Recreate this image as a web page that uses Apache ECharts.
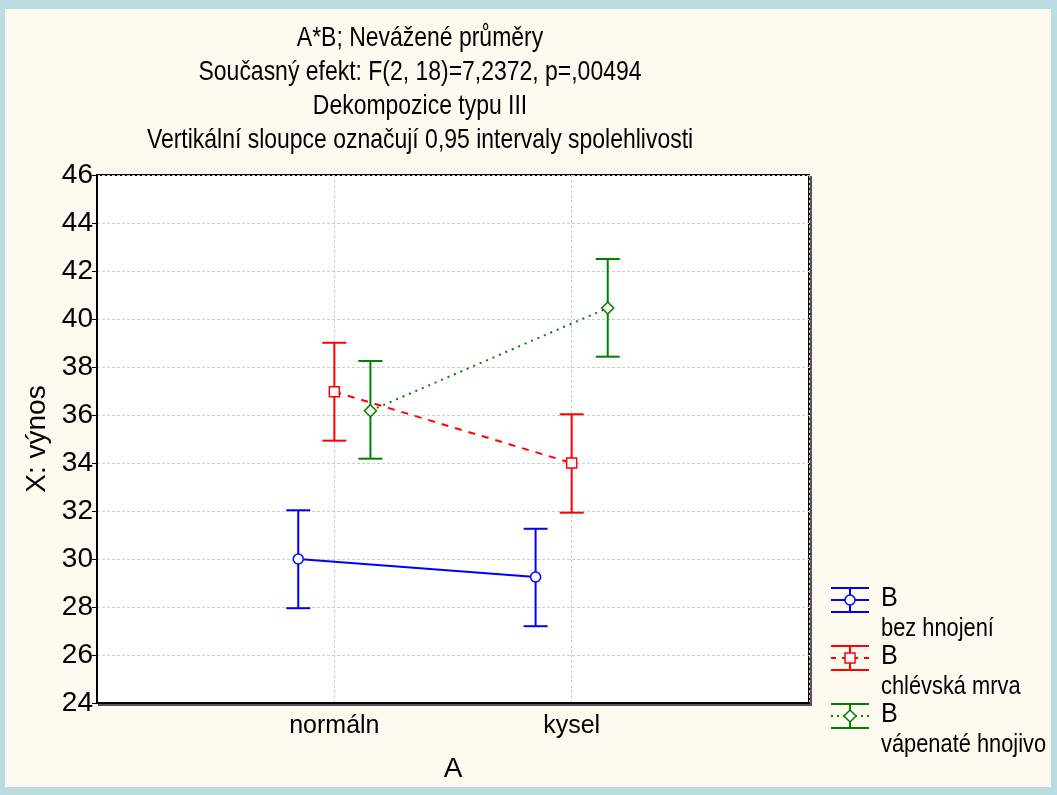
<!DOCTYPE html>
<html>
<head>
<meta charset="utf-8">
<script src="https://cdn.jsdelivr.net/npm/echarts@6/dist/echarts.min.js"></script>
<style>
    html, body { margin: 0; padding: 0; background: #b9dde1; }
    #main { width: 1057px; height: 795px; }
</style>
</head>
<body>
<div id="main"></div>
<script>
    // kategorie faktoru A a skupiny faktoru B
    var categories = ['normáln', 'kysel'];
    var groupNames = ['bez hnojení', 'chlévská mrva', 'vápenaté hnojivo'];
    var yTicks = [24, 26, 28, 30, 32, 34, 36, 38, 40, 42, 44, 46];
    var titleLines = [
        'A*B; Nevážené průměry',
        'Současný efekt: F(2, 18)=7,2372, p=,00494',
        'Dekompozice typu III',
        'Vertikální sloupce označují 0,95 intervaly spolehlivosti'
    ];

    // průměry a meze 0,95 intervalů spolehlivosti
    var meanBez = [30.0, 29.25];
    var lowBez = [27.95, 27.2];
    var highBez = [32.03, 31.26];

    var meanChl = [36.97, 34.0];
    var lowChl = [34.93, 31.93];
    var highChl = [39.01, 36.03];

    var meanVap = [36.18, 40.46];
    var lowVap = [34.18, 38.43];
    var highVap = [38.25, 42.5];

    var FONT = "'Liberation Sans', Arial, sans-serif";
    var colors = ['#0000ff', '#ff0000', '#008000'];
    var lineTypes = ['solid', [7, 7], [2, 5]];
    var symbols = ['circle', 'rect', 'diamond'];
    var symbolSizes = [10, 10, 12];
    var offsets = [-0.152, 0, 0.152];

    var means = [meanBez, meanChl, meanVap];
    var lows = [lowBez, lowChl, lowVap];
    var highs = [highBez, highChl, highVap];

    function errRenderer(color) {
        return function (params, api) {
            var x = api.value(0);
            var pHi = api.coord([x, api.value(2)]);
            var pLo = api.coord([x, api.value(1)]);
            var half = 12;
            var st = { stroke: color, lineWidth: 2 };
            return {
                type: 'group',
                children: [
                    { type: 'line', shape: { x1: pHi[0], y1: pHi[1], x2: pLo[0], y2: pLo[1] }, style: st },
                    { type: 'line', shape: { x1: pHi[0] - half, y1: pHi[1], x2: pHi[0] + half, y2: pHi[1] }, style: st },
                    { type: 'line', shape: { x1: pLo[0] - half, y1: pLo[1], x2: pLo[0] + half, y2: pLo[1] }, style: st }
                ]
            };
        };
    }

    var series = [];
    groupNames.forEach(function (name, g) {
        series.push({
            name: 'err' + g,
            type: 'custom',
            renderItem: errRenderer(colors[g]),
            data: categories.map(function (c, i) { return [i + 1 + offsets[g], lows[g][i], highs[g][i]]; }),
            z: 2
        });
    });
    groupNames.forEach(function (name, g) {
        series.push({
            name: name,
            type: 'line',
            data: categories.map(function (c, i) { return [i + 1 + offsets[g], means[g][i]]; }),
            symbol: symbols[g],
            symbolSize: symbolSizes[g],
            showAllSymbol: true,
            lineStyle: { color: colors[g], width: 2, type: lineTypes[g] },
            itemStyle: { color: '#ffffff', borderColor: colors[g], borderWidth: 1.5 },
            z: 3
        });
    });

    // nadpis - zúžené písmo jako ve Statistice
    var titleEls = titleLines.map(function (t, i) {
        return {
            type: 'text', x: 420, y: 38 + i * 34, scaleX: 0.82,
            style: { text: t, font: '28px ' + FONT, fill: '#000', align: 'center', verticalAlign: 'middle' }
        };
    });

    // legenda (značka chybové úsečky + dvouřádkový popis)
    var legendEls = [];
    groupNames.forEach(function (name, g) {
        var cy = 600 + g * 58;
        var st = { stroke: colors[g], lineWidth: 2 };
        legendEls.push(
            { type: 'line', shape: { x1: 831, y1: cy - 12, x2: 869, y2: cy - 12 }, style: st },
            { type: 'line', shape: { x1: 831, y1: cy + 12, x2: 869, y2: cy + 12 }, style: st },
            { type: 'line', shape: { x1: 850, y1: cy - 12, x2: 850, y2: cy + 12 }, style: st },
            { type: 'line', shape: { x1: 831, y1: cy, x2: 869, y2: cy },
              style: { stroke: colors[g], lineWidth: 2, lineDash: g === 0 ? null : (g === 1 ? [5, 6] : [2, 4]) } }
        );
        var mk;
        if (g === 0) mk = { type: 'circle', shape: { cx: 850, cy: cy, r: 5 } };
        else if (g === 1) mk = { type: 'rect', shape: { x: 845, y: cy - 5, width: 10, height: 10 } };
        else mk = { type: 'polygon', shape: { points: [[850, cy - 6], [856, cy], [850, cy + 6], [844, cy]] } };
        mk.style = { fill: '#ffffff', stroke: colors[g], lineWidth: 1.5 };
        legendEls.push(mk);
        legendEls.push(
            { type: 'text', x: 881, y: cy - 2, scaleX: 0.9,
              style: { text: 'B', font: '28px ' + FONT, fill: '#000', verticalAlign: 'middle' } },
            { type: 'text', x: 881, y: cy + 29, scaleX: 0.84,
              style: { text: name, font: '26px ' + FONT, fill: '#000', verticalAlign: 'middle' } }
        );
    });

    var chart = echarts.init(document.getElementById('main'));
    chart.setOption({
        animation: false,
        backgroundColor: '#b9dde1',
        graphic: [
            { type: 'rect', shape: { x: 5, y: 9, width: 1046, height: 778 }, style: { fill: '#fffaf0' }, z: -10 },
            // stín rámečku grafu
            { type: 'rect', shape: { x: 99, y: 177, width: 712, height: 528 }, style: { fill: 'none', stroke: '#555', lineWidth: 2 }, z: -5 },
            { type: 'group', children: titleEls },
            { type: 'group', children: legendEls }
        ],
        grid: {
            left: 97, top: 175, width: 712, height: 528,
            show: true, backgroundColor: '#ffffff', borderColor: '#000', borderWidth: 2
        },
        xAxis: {
            type: 'value', min: 0, max: 3, interval: 1,
            name: 'A', nameLocation: 'middle', nameGap: 52,
            nameTextStyle: { fontFamily: FONT, fontSize: 28, color: '#000' },
            axisLine: { show: true, lineStyle: { color: '#000', width: 2 } },
            axisTick: { show: false },
            axisLabel: {
                margin: 11, fontFamily: FONT, fontSize: 25, color: '#000',
                formatter: function (v) { return categories[v - 1] || ''; }
            },
            splitLine: { show: true, lineStyle: { color: '#cccccc', type: [3, 2], width: 1 } }
        },
        yAxis: {
            type: 'value', min: yTicks[0], max: yTicks[yTicks.length - 1], interval: 2,
            name: 'X: výnos', nameLocation: 'middle', nameGap: 46,
            nameTextStyle: { fontFamily: FONT, fontSize: 28, color: '#000' },
            axisLine: { show: true, lineStyle: { color: '#000', width: 2 } },
            axisTick: { show: true, length: 5, lineStyle: { color: '#000' } },
            axisLabel: { margin: 4, fontFamily: FONT, fontSize: 28, color: '#000' },
            splitLine: { show: true, lineStyle: { color: '#cccccc', type: [3, 2], width: 1 } }
        },
        series: series
    });
</script>
</body>
</html>
